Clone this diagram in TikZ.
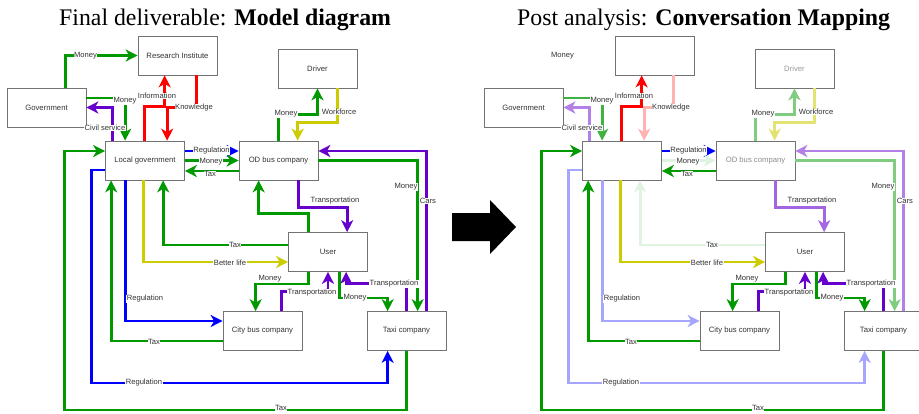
\documentclass[tikz,border=0pt]{standalone}
\usepackage{fontspec}
\setmainfont{Liberation Serif}
\newfontfamily\dfont{Liberation Sans}
\usetikzlibrary{arrows.meta}
\definecolor{cG}{RGB}{0,153,0}
\definecolor{cB}{RGB}{0,0,255}
\definecolor{cR}{RGB}{255,0,0}
\definecolor{cP}{RGB}{102,0,204}
\definecolor{cY}{RGB}{204,204,0}
\tikzset{
  box/.style={draw=black!55, line width=0.7pt, fill=white, minimum width=79pt, minimum height=39pt, inner sep=0pt, font=\dfont\fontsize{7.7}{9}\selectfont, text=black!80},
  lbl/.style={fill=white, inner sep=0.5pt, font=\dfont\fontsize{7.6}{9}\selectfont, text=black!80},
  con/.style={line width=2.7pt, -{Stealth[length=12pt,width=12pt,inset=3.5pt]}},
  ttl/.style={font=\fontsize{23.8}{28}\selectfont, inner sep=0pt, anchor=base west},
  hidden/.style={draw=none},
  eA/.style={draw=cG}, eB/.style={draw=cG}, eC/.style={draw=cP}, eD/.style={draw=cR},
  eE/.style={draw=cR}, eF/.style={draw=cG}, eG/.style={draw=cY}, eH/.style={draw=cB},
  eI/.style={draw=cG}, eJ/.style={draw=cG}, eK/.style={draw=cP}, eL/.style={draw=cG},
  eM/.style={draw=cP}, eN/.style={draw=cG}, eO/.style={draw=cG}, eP/.style={draw=cY},
  eQ/.style={draw=cG}, eR/.style={draw=cB}, eS/.style={draw=cG}, eT/.style={draw=cB},
  eU/.style={draw=cG}, eV/.style={draw=cP}, eW/.style={draw=cP}, eX/.style={draw=cG},
  tRI/.style={}, tDrv/.style={}, tOD/.style={}, tLG/.style={}
}
\newcommand\RItext{Research Institute}
\newcommand\LGtext{Local government}
\newcommand\Model[1]{%
  % boxes
  \node[box] (#1gov) at (46.5,107.5) {Government};
  \node[box,tRI] (#1ri) at (177.5,55.5) {\RItext};
  \node[box,tDrv] (#1drv) at (317.5,68.5) {Driver};
  \node[box,tLG] (#1lg) at (145,160.5) {\LGtext};
  \node[box,tOD] (#1od) at (278.5,160.5) {OD bus company};
  \node[box] (#1usr) at (328,252) {User};
  \node[box] (#1cb) at (262.5,331) {City bus company};
  \node[box] (#1tx) at (406.5,331) {Taxi company};
  % connectors
  \draw[con,eA] ([xshift=59pt]#1gov.north west) |- (#1ri.west);
  \draw[con,eB] ([yshift=9.5pt]#1gov.east) -| ([xshift=20pt]#1lg.north west);
  \draw[con,eC] ([xshift=7pt]#1lg.north west) |- (#1gov.east);
  \draw[con,eD] ([xshift=39pt]#1lg.north west) -- ++(0,-34) -| ([xshift=27pt]#1ri.south west);
  \draw[con,eE] ([xshift=59pt]#1ri.south west) -- ++(0,32) -| ([xshift=62pt]#1lg.north west);
  \draw[con,eF] ([xshift=40pt]#1od.north west) -- ++(0,-26) -| (#1drv.south);
  \draw[con,eG] ([xshift=60pt]#1drv.south west) -- ++(0,34) -| ([xshift=59pt]#1od.north west);
  \draw[con,eH] ([yshift=9.5pt]#1lg.east) -- ([yshift=9.5pt]#1od.west);
  \draw[con,eI] (#1lg.east) -- (#1od.west);
  \draw[con,eJ] ([yshift=-10.5pt]#1od.west) -- ([yshift=-10.5pt]#1lg.east);
  \draw[con,eK] ([xshift=60pt]#1tx.north west) |- ([yshift=9.5pt]#1od.east);
  \draw[con,eL] (#1od.east) -| ([xshift=51pt]#1tx.north west);
  \draw[con,eM] ([xshift=60pt]#1od.south west) -- ++(0,27) -| ([xshift=59pt]#1usr.north west);
  \draw[con,eN] ([xshift=20pt]#1usr.north west) -- ++(0,-19) -| ([xshift=20pt]#1od.south west);
  \draw[con,eO] ([yshift=7pt]#1usr.west) -| ([xshift=58pt]#1lg.south west);
  \draw[con,eP] ([xshift=38pt]#1lg.south west) |- ([yshift=-10pt]#1usr.west);
  \draw[con,eQ] ([xshift=40pt]#1tx.south west) -- ++(0,59) -- ++(-342,0) |- ([yshift=9.5pt]#1lg.west);
  \draw[con,eR] ([yshift=-9.5pt]#1lg.west) -- ++(-14,0) -- ++(0,213) -| ([xshift=21pt]#1tx.south west);
  \draw[con,eS] ([yshift=-10pt]#1cb.west) -| ([xshift=6pt]#1lg.south west);
  \draw[con,eT] ([xshift=20pt]#1lg.south west) |- ([yshift=10pt]#1cb.west);
  \draw[con,eU] ([xshift=20pt]#1usr.south west) -- ++(0,12) -| ([xshift=33pt]#1cb.north west);
  \draw[con,eV] ([xshift=59pt]#1cb.north west) -- ++(0,-20) -| (#1usr.south);
  \draw[con,eW] ([xshift=40pt]#1tx.north west) -- ++(0,-28) -| ([xshift=58pt]#1usr.south west);
  \draw[con,eX] ([xshift=51pt]#1usr.south west) -- ++(0,26) -| ([xshift=21pt]#1tx.north west);
  % labels
  \node[lbl] (#1lA) at (85.5,56) {Money};
  \node[lbl] (#1lB) at (125,101) {Money};
  \node[lbl] (#1lC) at (105,128) {Civil service};
  \node[lbl] (#1lD) at (157,96) {Information};
  \node[lbl] (#1lE) at (194,108) {Knowledge};
  \node[lbl] (#1lF) at (286,114) {Money};
  \node[lbl] (#1lG) at (339,112) {Workforce};
  \node[lbl] (#1lH) at (211.5,150.5) {Regulation};
  \node[lbl] (#1lI) at (211,162) {Money};
  \node[lbl] (#1lJ) at (210,174) {Tax};
  \node[lbl] (#1lK) at (428,201) {Cars};
  \node[lbl] (#1lL) at (406,187) {Money};
  \node[lbl] (#1lM) at (335,201) {Transportation};
  \node[lbl] (#1lO) at (235,245) {Tax};
  \node[lbl] (#1lP) at (230,263) {Better life};
  \node[lbl] (#1lQ) at (281,408.3) {Tax};
  \node[lbl] (#1lR) at (144,383) {Regulation};
  \node[lbl] (#1lS) at (154,342) {Tax};
  \node[lbl] (#1lT) at (145,299) {Regulation};
  \node[lbl] (#1lU) at (270,279) {Money};
  \node[lbl] (#1lV) at (312,293) {Transportation};
  \node[lbl] (#1lW) at (394,284) {Transportation};
  \node[lbl] (#1lX) at (355,298) {Money};
}
\begin{document}
\begin{tikzpicture}[x=1pt,y=-1pt]
  \useasboundingbox[fill=white] (0,0) rectangle (919,413);
  \node[ttl] (t1) at (59,25) {Final deliverable: \textbf{Model diagram}};
  \node[ttl] (t2) at (517,25) {Post analysis: \textbf{Conversation Mapping}};
  \begin{scope}
    \Model{L}
  \end{scope}
  \fill[black] (452,213) -- (490,213) -- (490,200) -- (516,227) -- (490,254) -- (490,241) -- (452,241) -- cycle;
  \begin{scope}[xshift=477pt,
    tRI/.style={}, tLG/.style={}, tDrv/.style={text=black!40}, tOD/.style={text=black!45},
    eA/.style={hidden}, eB/.style={draw=cG!75}, eC/.style={draw=cP!50},
    eE/.style={draw=cR!30}, eF/.style={draw=cG!50}, eG/.style={draw=cY!55},
    eI/.style={draw=cG!12}, eK/.style={draw=cP!50}, eL/.style={draw=cG!50},
    eM/.style={draw=cP!60}, eN/.style={hidden}, eO/.style={draw=cG!12},
    eR/.style={draw=cB!35}, eT/.style={draw=cB!35}]
    \renewcommand\RItext{}
    \renewcommand\LGtext{}
    \Model{R}
  \end{scope}
\end{tikzpicture}
\end{document}
